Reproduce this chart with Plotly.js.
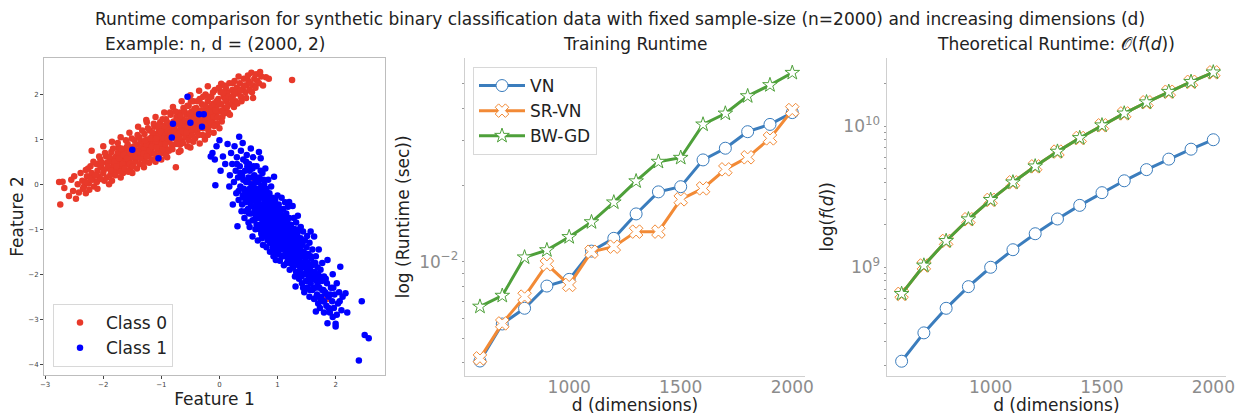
<!DOCTYPE html>
<html>
<head>
<meta charset="utf-8">
<script src="https://cdn.plot.ly/plotly-3.0.1.min.js"></script>
<style>html,body{margin:0;padding:0;background:#fff;}#chart{width:1236px;height:415px;}</style>
</head>
<body>
<div id="chart"></div>
<script>
// ---------- Data ----------
const dims = [600, 700, 800, 900, 1000, 1100, 1200, 1300, 1400, 1500, 1600, 1700, 1800, 1900, 2000];
const vnRuntime   = [4.07e-3, 5.69e-3, 6.56e-3, 8.02e-3, 8.52e-3, 1.10e-2, 1.235e-2, 1.54e-2, 1.88e-2, 1.97e-2, 2.51e-2, 2.79e-2, 3.24e-2, 3.46e-2, 3.85e-2];
const srvnRuntime = [4.17e-3, 5.72e-3, 7.29e-3, 9.76e-3, 8.10e-3, 1.094e-2, 1.145e-2, 1.312e-2, 1.312e-2, 1.757e-2, 1.94e-2, 2.305e-2, 2.57e-2, 3.05e-2, 3.94e-2];
const bwgdRuntime = [6.66e-3, 7.35e-3, 1.04e-2, 1.11e-2, 1.25e-2, 1.43e-2, 1.71e-2, 2.07e-2, 2.47e-2, 2.56e-2, 3.46e-2, 3.82e-2, 4.47e-2, 4.94e-2, 5.52e-2];
const vnTheory   = [2.16e8, 3.43e8, 5.12e8, 7.29e8, 1.0e9, 1.331e9, 1.728e9, 2.197e9, 2.744e9, 3.375e9, 4.096e9, 4.913e9, 5.832e9, 6.859e9, 8.0e9];
const srvnTheory = [6.48e8, 1.029e9, 1.536e9, 2.187e9, 3.0e9, 3.993e9, 5.184e9, 6.591e9, 8.232e9, 1.0125e10, 1.2288e10, 1.4739e10, 1.7496e10, 2.0577e10, 2.4e10];
const bwgdTheory = [6.48e8, 1.029e9, 1.536e9, 2.187e9, 3.0e9, 3.993e9, 5.184e9, 6.591e9, 8.232e9, 1.0125e10, 1.2288e10, 1.4739e10, 1.7496e10, 2.0577e10, 2.4e10];
const seriesNames = ['VN', 'SR-VN', 'BW-GD'];
const classNames = ['Class 0', 'Class 1'];

const class0Points = [[-2.76,0.05],[-2.74,-0.45],[-2.67,-0.08],[-2.7,0.06],[-2.59,-0.26],[-2.52,-0.15],[-2.55,0.1],[-2.44,0.0],[-2.5,0.18],[-2.47,-0.32],[-2.42,-0.18],[-2.39,0.25],[-2.36,0.08],[-2.33,-0.05],[-2.3,0.32],[-2.28,0.18],[-2.25,0.02],[-2.22,0.4],[-2.2,0.25],[-2.18,0.1],[-2.16,-0.05],[-2.12,0.45],[-2.1,0.3],[-2.08,0.18],[-2.05,0.55],[-2.03,0.38],[-2.0,0.25],[-1.98,0.08],[-1.95,0.62],[-1.93,0.48],[-1.9,0.35],[-1.88,0.2],[-1.86,0.72],[-1.84,0.55],[-1.82,0.42],[-1.8,0.3],[-1.78,0.62],[-1.76,0.48],[-1.74,0.82],[-1.72,0.38],[-1.7,0.68],[-1.68,0.55],[-1.66,0.25],[-1.64,0.75],[-1.62,0.62],[-1.6,0.45],[-1.58,0.9],[-1.56,0.7],[-1.55,0.55],[-1.53,0.35],[-1.5,0.82],[-1.48,0.65],[-1.46,0.98],[-1.45,0.5],[-1.43,0.75],[-1.42,0.88],[-1.4,0.6],[-1.38,1.05],[-1.37,0.45],[-1.35,0.82],[-1.34,0.7],[-1.32,0.95],[-1.3,0.58],[-1.29,1.12],[-1.27,0.85],[-1.26,0.72],[-1.24,1.0],[-1.22,0.62],[-1.21,0.92],[-1.2,1.2],[-1.18,0.8],[-1.17,1.05],[-1.15,0.7],[-1.14,0.95],[-1.12,1.28],[-1.11,0.85],[-1.1,1.12],[-1.08,0.58],[-1.07,1.0],[-1.06,0.78],[-1.04,1.2],[-1.03,0.9],[-1.02,1.38],[-1.0,1.05],[-0.99,0.7],[-0.98,0.95],[-0.96,1.25],[-0.95,0.85],[-0.94,1.12],[-0.92,1.45],[-0.91,1.0],[-0.9,0.78],[-0.88,1.3],[-0.87,1.15],[-0.86,0.95],[-0.84,1.55],[-0.83,1.22],[-0.82,0.88],[-0.8,1.08],[-0.79,1.4],[-0.77,1.28],[-0.76,1.02],[-0.74,1.5],[-0.73,1.18],[-0.72,0.92],[-0.7,1.35],[-0.69,1.6],[-0.68,1.1],[-0.66,1.25],[-0.65,0.98],[-0.64,1.45],[-0.62,1.7],[-0.61,1.15],[-0.6,1.32],[-0.58,1.05],[-0.57,1.55],[-0.56,1.4],[-0.54,1.22],[-0.53,1.75],[-0.52,1.1],[-0.5,1.48],[-0.49,1.3],[-0.48,1.62],[-0.46,1.2],[-0.45,1.85],[-0.44,1.4],[-0.42,1.55],[-0.41,1.28],[-0.4,1.7],[-0.38,1.15],[-0.37,1.45],[-0.36,1.62],[-0.34,1.9],[-0.33,1.35],[-0.32,1.55],[-0.3,1.78],[-0.28,1.25],[-0.27,1.48],[-0.26,1.65],[-0.24,2.0],[-0.23,1.4],[-0.22,1.58],[-0.2,1.85],[-0.18,1.3],[-0.17,1.7],[-0.16,1.52],[-0.14,1.95],[-0.12,1.42],[-0.11,1.62],[-0.1,1.8],[-0.08,2.1],[-0.06,1.55],[-0.05,1.72],[-0.04,1.35],[-0.02,1.9],[0.0,1.62],[0.02,2.05],[0.03,1.78],[0.05,1.5],[0.07,1.95],[0.08,2.2],[0.1,1.7],[0.12,1.85],[0.14,2.05],[0.15,1.6],[0.17,2.25],[0.19,1.92],[0.2,1.78],[0.22,2.1],[0.24,1.98],[0.26,2.3],[0.28,1.85],[0.3,2.15],[0.32,2.02],[0.35,2.25],[0.37,1.95],[0.4,2.12],[0.42,2.35],[0.45,2.05],[0.47,2.2],[0.5,2.3],[0.52,2.1],[0.55,2.48],[0.58,2.2],[0.6,2.35],[0.62,2.15],[0.65,2.3],[0.8,2.38],[0.85,2.35],[1.25,2.32],[0.58,1.92],[-0.75,0.38],[-0.67,0.75],[0.6,0.12],[1.85,-2.55],[-0.34,0.91],[-0.25,1.0],[-0.45,0.95],[-0.2,1.1],[-0.1,1.15],[0.0,1.25],[-0.55,0.85],[-2.2,0.75],[-2.0,0.85],[-1.85,0.95],[-1.7,1.05],[-1.55,1.15],[-1.4,1.28],[-1.25,1.38],[-1.1,1.5],[-0.95,1.6],[-0.8,1.72],[-0.65,1.85],[-0.5,1.98],[-0.35,2.08],[-0.2,2.18],[0.03,2.24],[-1.26,1.43],[-2.3,-0.2],[-2.1,-0.1],[-1.9,0.0],[-1.7,0.15],[-1.5,0.25],[-1.3,0.38],[-1.1,0.5],[-0.9,0.6],[-0.7,0.72],[-0.5,0.82],[-1.5,0.6],[-1.45,0.72],[-1.35,0.95],[-1.3,0.78],[-1.25,0.88],[-1.2,0.75],[-1.15,1.15],[-1.1,0.95],[-1.05,1.08],[-1.0,0.88],[-0.95,1.02],[-0.9,1.2],[-0.85,1.05],[-0.8,1.25],[-0.75,1.15],[-0.7,1.05],[-0.65,1.38],[-0.6,1.2],[-0.55,1.3],[-0.5,1.15],[-0.45,1.5],[-0.4,1.35],[-0.35,1.25],[-0.3,1.4],[-0.25,1.55],[-0.2,1.45],[-0.15,1.6],[-0.1,1.5],[-0.05,1.85],[0.05,1.65],[0.1,1.9],[-1.65,0.5],[-1.75,0.7],[-1.6,0.82],[-1.9,0.5],[-2.05,0.4],
[-2.35,-0.1],[-2.3,0.05],[-2.26,0.35],[-2.24,-0.12],[-2.21,0.12],[-2.17,0.5],[-2.14,0.2],[-2.11,0.05],[-2.07,0.62],[-2.04,0.12],[-2.02,0.48],[-1.99,0.32],[-1.97,0.7],[-1.94,0.15],[-1.92,0.4],[-1.89,0.62],[-1.87,0.3],[-1.85,0.08],[-1.83,0.8],[-1.81,0.5],[-1.79,0.2],[-1.77,0.4],[-1.75,0.92],[-1.73,0.58],[-1.71,0.28],[-1.69,0.8],[-1.67,0.45],[-1.65,0.65],[-1.63,0.35],[-1.61,0.98],[-1.59,0.58],[-1.57,0.28],[-1.55,0.82],[-1.54,0.45],[-1.52,0.68],[-1.51,1.02],[-1.49,0.4],[-1.47,0.85],[-1.44,0.62],[-1.42,0.35],[-1.41,1.1],[-1.39,0.72],[-1.36,0.58],[-1.33,1.2],[-1.31,0.68],[-1.28,0.5],[-1.28,0.98],[-1.25,0.62],[-1.23,1.25],[-1.21,0.48],[-1.19,1.02],[-1.16,0.85],[-1.16,0.55],[-1.13,1.35],[-1.12,0.68],[-1.09,1.02],[-1.08,0.82],[-1.05,1.3],[-1.04,0.65],[-1.01,1.18],[-1.0,0.55],[-0.98,1.45],[-0.97,0.78],[-0.95,1.3],[-0.93,0.9],[-0.92,0.65],[-0.9,1.38],[-0.89,1.02],[-0.87,0.75],[-0.85,1.6],[-0.84,1.15],[-0.82,1.35],[-0.81,0.78],[-0.78,1.18],[-0.76,1.62],[-0.75,0.9],[-0.72,1.42],[-0.71,1.12],[-0.68,0.88],[-0.67,1.52],[-0.64,1.18],[-0.63,0.92],[-0.6,1.62],[-0.59,1.42],[-0.57,1.15],[-0.55,1.75],[-0.53,0.98],[-0.51,1.58],[-0.49,1.85],[-0.47,1.08],[-0.46,1.35],[-0.43,1.68],[-0.42,1.02],[-0.39,1.52],[-0.38,1.85],[-0.36,1.1],[-0.34,1.42],[-0.31,1.65],[-0.29,1.1],[-0.28,1.95],[-0.25,1.32],[-0.24,1.75],[-0.21,1.5],[-0.19,1.2],[-0.18,1.95],[-0.15,1.38],[-0.13,1.75],[-0.11,2.05],[-0.09,1.3],[-0.07,1.65],[-0.03,1.48],[-0.01,2.15],[0.01,1.8],[0.04,1.4],[0.06,2.05],[0.09,1.58],[0.11,2.15],[0.13,1.72],[0.16,1.95],[0.18,1.55],[0.21,1.9],[0.23,2.25],[0.25,1.72],[0.27,2.05],[0.31,1.8],[0.33,2.4],[0.36,2.08],[0.38,1.85],[0.43,2.2],[0.46,1.92],[0.49,2.42],[0.53,2.25],[0.56,2.05],[0.63,2.45],[0.68,2.25],[0.72,2.4],[0.75,2.2],[0.7,2.5]];

const class1Points = [[-0.12,0.7],[-0.15,0.62],[-0.08,0.55],[-0.05,0.85],[0.0,0.98],[-0.07,-0.02],[0.02,0.3],[0.06,0.62],[0.1,0.45],[0.14,0.9],[0.17,-0.05],[0.18,0.2],[0.2,0.7],[0.22,0.45],[0.23,-0.45],[0.25,0.05],[0.26,0.85],[0.28,0.3],[0.29,-0.2],[0.3,0.6],[0.31,-0.93],[0.32,0.15],[0.33,-0.35],[0.34,1.06],[0.35,0.4],[0.36,-0.05],[0.37,0.75],[0.38,-0.6],[0.39,0.2],[0.4,-0.25],[0.4,0.92],[0.41,0.55],[0.42,-0.1],[0.43,-0.75],[0.44,0.3],[0.45,-0.4],[0.46,0.05],[0.47,0.65],[0.48,-0.2],[0.49,-0.55],[0.5,0.15],[0.5,-0.85],[0.51,0.45],[0.52,-0.1],[0.53,-0.35],[0.54,0.8],[0.55,-0.65],[0.55,0.0],[0.56,-0.25],[0.57,0.35],[0.57,-1.16],[0.58,-0.5],[0.59,-0.05],[0.6,-0.8],[0.6,0.2],[0.6,-0.35],[0.58,0.6],[0.45,-0.6],[0.52,-0.95],[0.48,0.4],[0.42,-0.3],[0.55,-0.15],[0.5,-0.3],[0.61,-0.6],[0.62,0.05],[0.62,-1.0],[0.63,-0.2],[0.64,-0.45],[0.64,0.4],[0.65,-0.75],[0.66,-0.1],[0.66,-1.25],[0.67,-0.35],[0.68,0.72],[0.68,-0.55],[0.69,0.15],[0.7,-0.9],[0.7,-0.3],[0.71,0.58],[0.71,-0.65],[0.72,-0.05],[0.72,-1.1],[0.73,-0.45],[0.74,0.25],[0.74,-0.8],[0.75,-0.2],[0.75,-1.35],[0.76,-0.6],[0.77,0.0],[0.77,-0.95],[0.78,-0.4],[0.78,-0.7],[0.79,0.35],[0.79,-1.15],[0.8,-0.25],[0.8,-0.85],[0.8,-0.5],[0.63,-0.7],[0.67,-0.5],[0.73,-0.15],[0.76,-1.05],[0.69,-0.75],[0.65,-0.3],[0.81,-1.4],[0.81,-0.1],[0.82,-0.65],[0.82,-1.0],[0.83,-0.35],[0.84,-0.8],[0.84,0.1],[0.85,-1.2],[0.85,-0.5],[0.86,-0.9],[0.86,-0.2],[0.87,-1.5],[0.87,-0.7],[0.88,-1.05],[0.88,-0.4],[0.89,-0.85],[0.89,-0.05],[0.9,-1.3],[0.9,-0.6],[0.91,-1.0],[0.91,-0.3],[0.92,-0.75],[0.92,-1.15],[0.93,-0.5],[0.93,-1.6],[0.94,0.17],[0.94,-0.9],[0.95,-1.25],[0.95,-0.65],[0.96,-1.05],[0.96,-0.35],[0.97,-1.68],[0.97,-0.8],[0.98,-1.15],[0.98,-0.5],[0.99,-1.4],[0.99,-0.95],[1.0,-0.7],[1.0,-1.2],[1.0,-0.25],[0.83,-1.25],[0.87,-0.95],[0.93,-0.4],[0.97,-1.3],[0.9,-0.95],[1.01,-1.55],[1.01,-0.9],[1.02,-1.05],[1.02,-0.45],[1.03,-1.3],[1.03,-0.75],[1.04,-1.7],[1.04,-1.0],[1.05,-0.6],[1.05,-1.2],[1.06,-1.45],[1.06,-0.85],[1.07,-0.3],[1.07,-1.1],[1.08,-1.35],[1.08,-0.7],[1.09,-1.6],[1.09,-0.95],[1.1,-1.25],[1.1,-0.55],[1.11,-1.05],[1.11,-1.8],[1.12,-1.4],[1.12,-0.8],[1.13,-1.15],[1.13,-0.4],[1.14,-1.55],[1.14,-0.95],[1.15,-1.3],[1.15,-0.65],[1.16,-1.75],[1.16,-1.1],[1.17,-1.45],[1.17,-0.85],[1.18,-1.2],[1.18,-0.5],[1.19,-1.6],[1.19,-1.0],[1.2,-1.35],[1.2,-0.39],[1.2,-0.75],[1.04,-1.4],[1.08,-1.2],[1.12,-1.25],[1.16,-1.35],[1.21,-1.9],[1.22,-1.15],[1.22,-1.5],[1.23,-0.9],[1.24,-1.3],[1.24,-1.7],[1.25,-1.05],[1.26,-0.48],[1.26,-1.45],[1.27,-1.85],[1.27,-1.2],[1.28,-0.75],[1.29,-1.6],[1.29,-1.35],[1.3,-2.05],[1.3,-1.0],[1.31,-2.27],[1.31,-1.5],[1.32,-1.25],[1.32,-0.85],[1.33,-1.75],[1.34,-1.4],[1.34,-1.1],[1.35,-1.95],[1.35,-0.7],[1.36,-1.55],[1.37,-1.3],[1.37,-2.1],[1.38,-1.0],[1.38,-1.7],[1.39,-1.45],[1.4,-1.85],[1.4,-1.2],[1.4,-0.95],[1.25,-1.6],[1.33,-1.55],[1.28,-1.0],[1.36,-1.8],[1.41,-1.6],[1.42,-2.2],[1.42,-1.35],[1.43,-1.75],[1.44,-1.05],[1.45,-2.0],[1.45,-1.5],[1.46,-2.4],[1.47,-1.85],[1.47,-1.25],[1.48,-1.65],[1.49,-2.15],[1.5,-1.4],[1.5,-1.95],[1.51,-1.15],[1.52,-2.3],[1.52,-1.75],[1.53,-1.55],[1.54,-2.05],[1.55,-1.3],[1.55,-2.5],[1.56,-1.85],[1.57,-1.05],[1.57,-2.2],[1.58,-1.65],[1.59,-1.95],[1.6,-2.35],[1.6,-1.45],[1.44,-1.6],[1.53,-1.9],[1.61,-2.1],[1.62,-1.75],[1.63,-1.16],[1.63,-2.55],[1.64,-1.95],[1.65,-2.3],[1.66,-2.83],[1.66,-1.6],[1.67,-2.15],[1.68,-2.45],[1.69,-1.85],[1.7,-2.65],[1.7,-2.0],[1.71,-1.45],[1.72,-2.3],[1.73,-2.75],[1.74,-1.9],[1.75,-2.5],[1.76,-2.15],[1.77,-1.75],[1.78,-2.6],[1.79,-2.35],[1.8,-2.05],[1.8,-2.85],[1.68,-2.05],[1.82,-2.4],[1.84,-2.7],[1.85,-2.2],[1.86,-1.68],[1.86,-3.09],[1.88,-2.5],[1.9,-2.85],[1.92,-2.3],[1.94,-2.6],[1.95,-2.0],[1.97,-2.75],[1.98,-2.45],[2.0,-3.1],[2.0,-3.16],[2.02,-2.2],[2.04,-2.65],[2.06,-2.4],[2.08,-1.83],[2.1,-2.8],[2.12,-2.5],[2.17,-2.42],[2.2,-2.85],[1.95,-2.95],[2.4,-3.92],[2.45,-2.6],[2.5,-3.35],[2.57,-3.42],
[0.3,0.45],[0.33,-0.15],[0.36,0.25],[0.39,-0.45],[0.41,0.1],[0.44,-0.15],[0.46,0.5],[0.47,-0.35],[0.49,0.05],[0.51,-0.65],[0.52,0.3],[0.54,-0.45],[0.56,0.15],[0.57,-0.8],[0.59,0.4],[0.61,-0.15],[0.62,-0.5],[0.63,0.15],[0.64,-0.9],[0.66,-0.6],[0.67,0.05],[0.68,-0.25],[0.69,-1.0],[0.7,-0.45],[0.71,0.3],[0.72,-0.7],[0.73,-1.2],[0.74,-0.3],[0.75,-0.55],[0.76,0.1],[0.77,-0.8],[0.78,-1.1],[0.79,-0.15],[0.8,-0.65],[0.81,-0.95],[0.82,-0.3],[0.83,-0.55],[0.84,-1.1],[0.85,-0.8],[0.86,-0.45],[0.87,-1.3],[0.88,-0.6],[0.89,-1.2],[0.9,-0.35],[0.91,-0.8],[0.92,-1.4],[0.93,-0.95],[0.94,-0.6],[0.95,-1.1],[0.96,-1.5],[0.97,-0.6],[0.98,-0.9],[0.99,-1.25],[1.0,-0.5],[1.01,-1.1],[1.02,-1.45],[1.03,-0.9],[1.04,-0.55],[1.05,-1.35],[1.06,-1.0],[1.07,-1.6],[1.08,-0.9],[1.09,-1.15],[1.1,-1.45],[1.11,-0.7],[1.12,-1.0],[1.13,-1.6],[1.14,-1.25],[1.15,-0.9],[1.16,-1.5],[1.17,-1.05],[1.18,-1.7],[1.19,-1.3],[1.2,-0.95],[1.21,-1.55],[1.22,-1.3],[1.23,-1.75],[1.24,-1.05],[1.25,-1.4],[1.26,-1.8],[1.27,-1.0],[1.28,-1.45],[1.29,-1.15],[1.3,-1.7],[1.31,-1.35],[1.32,-1.95],[1.33,-1.15],[1.34,-1.6],[1.35,-1.3],[1.36,-2.0],[1.37,-1.6],[1.38,-1.3],[1.39,-1.9],[1.4,-1.55],[1.41,-2.05],[1.42,-1.75],[1.43,-1.3],[1.44,-2.3],[1.45,-1.8],[1.46,-1.55],[1.48,-2.0],[1.49,-1.75],[1.5,-2.3],[1.51,-1.6],[1.53,-2.15],[1.54,-1.8],[1.56,-2.35],[1.57,-1.6],[1.58,-2.05],[1.6,-1.8],[1.62,-2.3],[1.64,-2.1],[1.65,-1.75],[1.67,-2.5],[1.69,-2.25],[1.72,-2.05],[1.74,-2.55],[1.77,-2.35],[1.8,-2.6],[1.83,-2.1],[1.85,-2.45],[1.88,-2.75],[1.91,-2.45],[1.96,-2.3],[2.02,-2.9],[2.07,-2.6],
[-0.55,1.95],[-0.8,1.35],[-0.5,1.37],[-0.35,1.56],[-0.27,1.56],[-0.3,1.28],[-0.82,1.04],[-1.5,0.77],[-1.05,0.58]];

const scatterXTicks = [-3, -2, -1, 0, 1, 2];
const scatterYTicks = [-4, -3, -2, -1, 0, 1, 2];
const dimTicks = [1000, 1500, 2000];
const runtimeTickVals = [0.01];
const runtimeTickText = ['10<sup>\u22122</sup>'];
const runtimeMinorTicks = [0.004, 0.005, 0.006, 0.007, 0.008, 0.009, 0.02, 0.03, 0.04, 0.05];
const theoryTickVals = [1e9, 1e10];
const theoryTickText = ['10<sup>9</sup>', '10<sup>10</sup>'];
const theoryMinorTicks = [2e8, 3e8, 4e8, 5e8, 6e8, 7e8, 8e8, 9e8, 2e9, 3e9, 4e9, 5e9, 6e9, 7e9, 8e9, 9e9, 2e10];

// ---------- Styles ----------
const FONT = 'DejaVu Sans, Liberation Sans, sans-serif';
const colors = {VN: '#3b7dbd', 'SR-VN': '#f28a36', 'BW-GD': '#4ea03a'};
const symbols = {VN: 'circle', 'SR-VN': 'x', 'BW-GD': 'star'};
const msize = {VN: 12, 'SR-VN': 12, 'BW-GD': 11};
const W = 1236, H = 415;
const px = (a, b) => [a / W, b / W];
const py = (top, bottom) => [1 - bottom / H, 1 - top / H];

function lineTrace(name, x, y, xa, ya, showlegend) {
  return {
    type: 'scatter', mode: 'lines+markers', name: name, x: x, y: y,
    xaxis: xa, yaxis: ya, showlegend: showlegend, legend: 'legend2',
    line: {color: colors[name], width: 3},
    marker: {symbol: symbols[name], size: msize[name], color: '#ffffff',
             line: {color: colors[name], width: 1}}
  };
}

const traces = [
  {type: 'scatter', mode: 'markers', name: classNames[0],
   x: class0Points.map(p => p[0]), y: class0Points.map(p => p[1]),
   xaxis: 'x', yaxis: 'y', legend: 'legend',
   marker: {color: '#e8392a', size: 6.5}},
  {type: 'scatter', mode: 'markers', name: classNames[1],
   x: class1Points.map(p => p[0]), y: class1Points.map(p => p[1]),
   xaxis: 'x', yaxis: 'y', legend: 'legend',
   marker: {color: '#0000ff', size: 6.5}},
  lineTrace(seriesNames[0], dims, vnRuntime, 'x2', 'y2', true),
  lineTrace(seriesNames[1], dims, srvnRuntime, 'x2', 'y2', true),
  lineTrace(seriesNames[2], dims, bwgdRuntime, 'x2', 'y2', true),
  lineTrace(seriesNames[0], dims, vnTheory, 'x3', 'y3', false),
  lineTrace(seriesNames[1], dims, srvnTheory, 'x3', 'y3', false),
  lineTrace(seriesNames[2], dims, bwgdTheory, 'x3', 'y3', false)
];

const titleFont = {family: FONT, size: 17, color: '#222'};
const grayTick = {family: FONT, size: 17, color: '#8c8c8c'};
const yDom = py(58, 375.7);

const layout = {
  width: W, height: H,
  margin: {l: 0, r: 0, t: 0, b: 0},
  paper_bgcolor: '#ffffff', plot_bgcolor: '#ffffff',
  font: {family: FONT, color: '#222'},
  title: {text: 'Runtime comparison for synthetic binary classification data with fixed sample-size (n=2000) and increasing dimensions (d)',
          x: 620 / W, xanchor: 'center', y: 1 - 19 / H, yanchor: 'middle', yref: 'paper',
          font: {family: FONT, size: 17, color: '#222'}},
  showlegend: true,
  legend: {x: 53 / W, y: 1 - 367 / H, xanchor: 'left', yanchor: 'bottom',
           bgcolor: '#ffffff', bordercolor: '#d8d8d8', borderwidth: 1,
           font: {family: FONT, size: 17, color: '#222'}, itemwidth: 42, tracegroupgap: 0},
  legend2: {x: 473 / W, y: 1 - 67 / H, xanchor: 'left', yanchor: 'top',
            bgcolor: '#ffffff', bordercolor: '#d8d8d8', borderwidth: 1,
            font: {family: FONT, size: 17, color: '#222'}, itemwidth: 46},
  xaxis: {domain: px(44, 385), range: [-3.02, 2.85], anchor: 'y',
          showline: true, mirror: true, linecolor: '#bdbdbd', linewidth: 1,
          showgrid: false, zeroline: false, ticks: 'outside', ticklen: 3, tickcolor: '#444',
          tickvals: scatterXTicks, tickfont: {family: FONT, size: 7, color: '#444'},
          title: {text: 'Feature 1', font: titleFont, standoff: 3}},
  yaxis: {domain: py(58, 375), range: [-4.24, 2.81], anchor: 'x',
          showline: true, mirror: true, linecolor: '#bdbdbd', linewidth: 1,
          showgrid: false, zeroline: false, ticks: 'outside', ticklen: 3, tickcolor: '#444',
          tickvals: scatterYTicks, tickfont: {family: FONT, size: 7, color: '#444'},
          title: {text: 'Feature 2', font: titleFont, standoff: 0}},
  xaxis2: {domain: px(465, 805), range: [533, 2057], anchor: 'y2',
           showline: true, linecolor: '#cfcfcf', linewidth: 1.2,
           showgrid: false, zeroline: false, ticks: '', tickvals: dimTicks, tickfont: grayTick,
           ticklabelstandoff: -4,
           title: {text: 'd (dimensions)', font: titleFont, standoff: 2}},
  yaxis2: {domain: yDom, type: 'log', range: [-2.448, -1.200], anchor: 'x2',
           showline: true, linecolor: '#cfcfcf', linewidth: 1.2,
           showgrid: false, zeroline: false, ticks: 'outside', ticklen: 2, tickcolor: '#999',
           tickvals: runtimeTickVals, ticktext: runtimeTickText, tickfont: grayTick,
           minor: {tickvals: runtimeMinorTicks, ticks: 'outside', ticklen: 2, tickcolor: '#999', showgrid: false},
           title: {text: 'log (Runtime (sec))', font: titleFont, standoff: 5}},
  xaxis3: {domain: px(886.7, 1226), range: [533, 2057], anchor: 'y3',
           showline: true, linecolor: '#cfcfcf', linewidth: 1.2,
           showgrid: false, zeroline: false, ticks: '', tickvals: dimTicks, tickfont: grayTick,
           ticklabelstandoff: -4,
           title: {text: 'd (dimensions)', font: titleFont, standoff: 2}},
  yaxis3: {domain: yDom, type: 'log', range: [8.232, 10.482], anchor: 'x3',
           showline: true, linecolor: '#cfcfcf', linewidth: 1.2,
           showgrid: false, zeroline: false, ticks: 'outside', ticklen: 2, tickcolor: '#999',
           tickvals: theoryTickVals, ticktext: theoryTickText, tickfont: grayTick,
           minor: {tickvals: theoryMinorTicks, ticks: 'outside', ticklen: 2, tickcolor: '#999', showgrid: false},
           title: {text: 'log(<i>f</i>(<i>d</i>))', font: titleFont, standoff: 5}},
  annotations: [
    {text: 'Example: n, d = (2000, 2)', xref: 'paper', yref: 'paper', x: 214.5 / W, y: 1 - 44 / H,
     xanchor: 'center', yanchor: 'middle', showarrow: false, font: {family: FONT, size: 17, color: '#222'}},
    {text: 'Training Runtime', xref: 'paper', yref: 'paper', x: 635 / W, y: 1 - 44 / H,
     xanchor: 'center', yanchor: 'middle', showarrow: false, font: {family: FONT, size: 17, color: '#222'}},
    {text: 'Theoretical Runtime: \uD835\uDCAA(<i>f</i>(<i>d</i>))', xref: 'paper', yref: 'paper', x: 1056 / W, y: 1 - 44 / H,
     xanchor: 'center', yanchor: 'middle', showarrow: false, font: {family: FONT, size: 17, color: '#222'}}
  ]
};

Plotly.newPlot('chart', traces, layout, {staticPlot: true, displayModeBar: false});
</script>
</body>
</html>
